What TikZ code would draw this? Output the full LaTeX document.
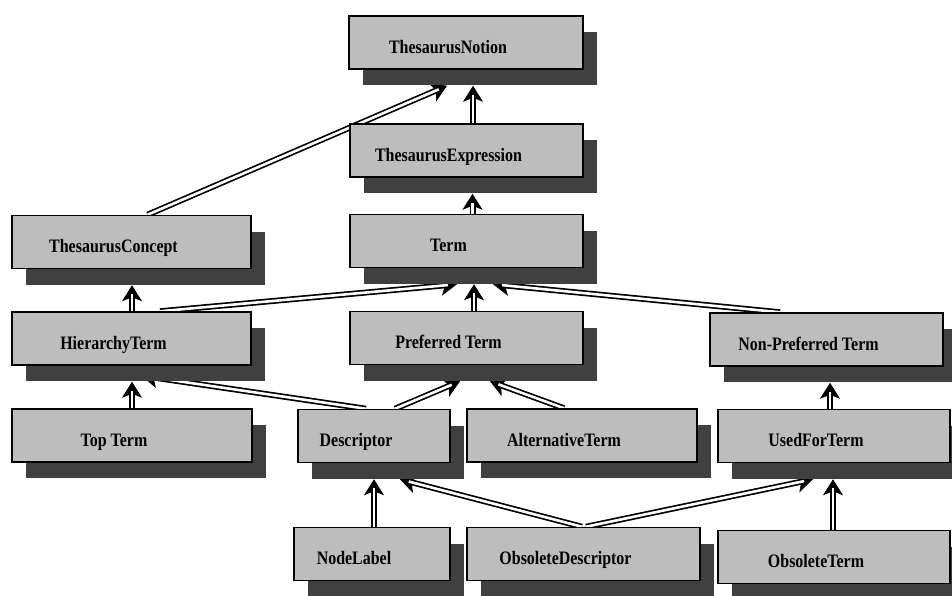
\documentclass[tikz,border=0pt]{standalone}
\usepackage{fontspec}
\newfontfamily\boxfont[FakeStretch=0.84]{Liberation Serif}
\usetikzlibrary{arrows.meta,calc,shadows,backgrounds}
\definecolor{boxgray}{HTML}{BDBDBD}
\definecolor{shadowgray}{HTML}{404040}
\tikzset{
  classbox/.style={draw=black, line width=1.5pt, fill=boxgray,
    minimum height=53pt, inner sep=0pt, text height=24pt, text depth=3pt,
    font=\boxfont\bfseries\fontsize{19}{19}\selectfont,
    general shadow={draw=none, fill=shadowgray, shadow xshift=14pt, shadow yshift=-16pt},
    execute at begin node={\hspace*{-36pt}}},
  genline/.style={draw=black, line width=1.7pt, double=white, double distance=2.6pt, shorten >=9pt},
  genhead/.style={draw=black, line width=1.2pt, -{Stealth[length=16pt,width=20pt,inset=4pt]}},
}
% generalization link: filled head plus a hollow double shaft
\newcommand\generalize[2]{\draw[genhead] #1 -- #2; \draw[genline] #1 -- #2;}
\begin{document}
\begin{tikzpicture}[x=1pt,y=-1pt]
\useasboundingbox (0,0) rectangle (952,595);

\node[classbox, minimum width=234pt] (tn)   at (466,42.5)  {ThesaurusNotion};
\node[classbox, minimum width=233pt] (te)   at (466.5,150.5) {ThesaurusExpression};
\node[classbox, minimum width=239pt] (tc)   at (131.5,242) {ThesaurusConcept};
\node[classbox, minimum width=233pt] (term) at (466.5,241) {Term};
\node[classbox, minimum width=239pt] (ht)   at (131.5,338.5) {HierarchyTerm};
\node[classbox, minimum width=233pt] (pt)   at (466.5,338) {Preferred Term};
\node[classbox, minimum width=233pt] (npt)  at (826.5,339.5) {Non-Preferred Term};
\node[classbox, minimum width=240pt] (top)  at (132,435.5) {Top Term};
\node[classbox, minimum width=152pt] (desc) at (374,436) {Descriptor};
\node[classbox, minimum width=230pt] (alt)  at (582,435.5) {AlternativeTerm};
\node[classbox, minimum width=232pt] (uft)  at (834,436) {UsedForTerm};
\node[classbox, minimum width=156pt] (nl)   at (372,554) {NodeLabel};
\node[classbox, minimum width=233pt] (od)   at (583.5,554) {ObsoleteDescriptor};
\node[classbox, minimum width=232pt] (ot)   at (834,557) {ObsoleteTerm};

\begin{scope}[on background layer]
\generalize{($(tc.north)+(16,0)$)}{($(tn.south)+(-19,16)$)}
\generalize{($(te.north)+(6.5,0)$)}{($(tn.south)+(7,16)$)}
\generalize{($(term.north)+(6,0)$)}{($(te.south)+(6,16)$)}
\generalize{($(ht.north)+(28.5,0)$)}{($(term.south)+(-9.5,16)$)}
\generalize{($(pt.north)+(7.5,0)$)}{($(term.south)+(7.5,16)$)}
\generalize{($(npt.north)+(-46.5,0)$)}{($(term.south)+(26.5,16)$)}
\generalize{($(ht.north)+(0.5,0)$)}{($(tc.south)+(0.5,16)$)}
\generalize{($(top.north)+(0,0)$)}{($(ht.south)+(0.5,16)$)}
\generalize{($(desc.north)+(-8,0)$)}{($(ht.south)+(10,10)$)}
\generalize{($(desc.north)+(21,0)$)}{($(pt.south)+(-6.5,16)$)}
\generalize{($(alt.north)+(-18,0)$)}{($(pt.south)+(23.5,16)$)}
\generalize{($(nl.north)+(2,0)$)}{($(desc.south)+(0,16)$)}
\generalize{($(od.north)+(-1.5,0)$)}{($(desc.south)+(26,16)$)}
\generalize{($(od.north)+(2.5,0)$)}{($(uft.south)+(-21,16)$)}
\generalize{($(ot.north)+(-1,0)$)}{($(uft.south)+(-1,16)$)}
\generalize{($(uft.north)+(-4,0)$)}{($(npt.south)+(3.5,16)$)}
\end{scope}
\end{tikzpicture}
\end{document}
